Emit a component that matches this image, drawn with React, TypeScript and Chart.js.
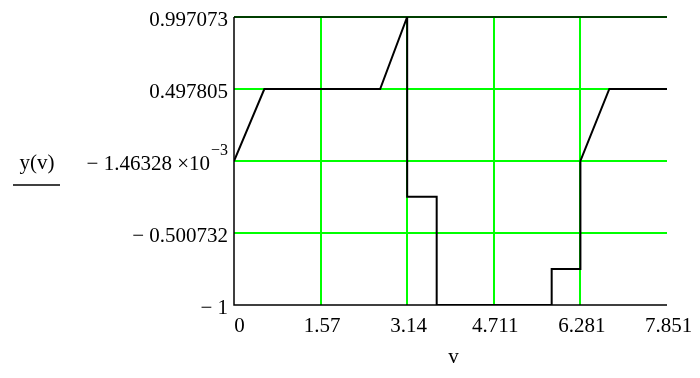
import React, { useEffect, useRef } from "react";
import { Chart, registerables } from "chart.js";

Chart.register(...registerables);

const vValues = [0, 0.55, 2.65, 3.14, 3.14, 3.675, 3.675, 5.76, 5.76, 6.281, 6.281, 6.805, 7.851];
const yValues = [-0.00146328, 0.497805, 0.497805, 0.997073, -0.25, -0.25, -1, -1, -0.75, -0.75, -0.00146328, 0.497805, 0.497805];
const xTicks = [0, 1.57, 3.14, 4.711, 6.281, 7.851];
const xTickLabels = ["0", "1.57", "3.14", "4.711", "6.281", "7.851"];
const yTicks = [-1, -0.500732, -0.00146328, 0.497805, 0.997073];
const yTickLabels = ["\u2212 1", "\u2212 0.500732", "\u2212 1.46328 \u00d710", "0.497805", "0.997073"];
const yLabel = "y(v)";
const xLabel = "v";

const FONT = "21px 'Liberation Serif', 'Times New Roman', serif";
const SUP_FONT = "16px 'Liberation Serif', 'Times New Roman', serif";
const GREEN = "#00ff00";
const NONE = "rgba(0,0,0,0)";

const labelsPlugin = {
  id: "mathcadLabels",
  beforeDatasetsDraw(chart: any) {
    const { ctx, chartArea } = chart;
    ctx.save();
    ctx.strokeStyle = "#000";
    ctx.lineWidth = 1.5;
    ctx.beginPath();
    ctx.moveTo(chartArea.left, chartArea.top);
    ctx.lineTo(chartArea.right, chartArea.top);
    ctx.moveTo(chartArea.left, chartArea.top);
    ctx.lineTo(chartArea.left, chartArea.bottom);
    ctx.lineTo(chartArea.right, chartArea.bottom);
    ctx.stroke();
    ctx.restore();
  },
  afterDraw(chart: any) {
    const { ctx } = chart;
    const xs = chart.scales.x;
    const ys = chart.scales.y;
    ctx.save();
    ctx.fillStyle = "#000";
    ctx.font = FONT;
    ctx.textBaseline = "middle";
    yTicks.forEach((t, i) => {
      const py = ys.getPixelForValue(t) + 3;
      ctx.textAlign = "right";
      if (i === 2) {
        ctx.font = SUP_FONT;
        ctx.fillText("\u22123", 228, py - 13);
        const w = ctx.measureText("\u22123").width;
        ctx.font = FONT;
        ctx.fillText(yTickLabels[i], 228 - w - 1, py);
      } else {
        ctx.fillText(yTickLabels[i], 228, py);
      }
    });
    xTicks.forEach((t, i) => {
      const px = xs.getPixelForValue(t) + (i === 0 ? 5.5 : 1.5);
      ctx.textAlign = "center";
      ctx.fillText(xTickLabels[i], px, 326);
    });
    ctx.textAlign = "center";
    ctx.fillText(xLabel, (xs.left + xs.right) / 2 + 3, 357);
    ctx.fillText(yLabel, 37, 163);
    ctx.lineWidth = 1.5;
    ctx.beginPath();
    ctx.moveTo(13, 185);
    ctx.lineTo(60, 185);
    ctx.stroke();
    ctx.restore();
  },
};

export default function App() {
  const ref = useRef<HTMLCanvasElement>(null);
  useEffect(() => {
    document.body.style.margin = "0";
    const canvas = ref.current!;
    const chart = new Chart(canvas, {
      type: "line",
      data: {
        datasets: [
          {
            data: vValues.map((v, i) => ({ x: v, y: yValues[i] })),
            borderColor: "#000",
            borderWidth: 2,
            pointRadius: 0,
            tension: 0,
            fill: false,
          },
        ],
      },
      options: {
        animation: false,
        responsive: false,
        maintainAspectRatio: false,
        layout: { padding: { left: 234, top: 17, right: 33, bottom: 73 } },
        plugins: { legend: { display: false }, tooltip: { enabled: false }, title: { display: false } },
        scales: {
          x: {
            type: "linear",
            min: 0,
            max: 7.851,
            afterBuildTicks: (s: any) => {
              s.ticks = xTicks.map((v) => ({ value: v }));
            },
            ticks: { display: false, autoSkip: false },
            border: { display: false },
            grid: {
              drawTicks: false,
              lineWidth: 2,
              color: xTicks.map((_, i) => (i === 0 || i === xTicks.length - 1 ? NONE : GREEN)),
            },
          },
          y: {
            type: "linear",
            min: -1,
            max: 0.997073,
            afterBuildTicks: (s: any) => {
              s.ticks = yTicks.map((v) => ({ value: v }));
            },
            ticks: { display: false, autoSkip: false },
            border: { display: false },
            grid: {
              drawTicks: false,
              lineWidth: 2,
              color: yTicks.map((_, i) => (i === 0 ? NONE : GREEN)),
            },
          },
        },
      },
      plugins: [labelsPlugin],
    });
    return () => chart.destroy();
  }, []);
  return (
    <div style={{ position: "absolute", left: 0, top: 0, width: 700, height: 378, background: "#fff" }}>
      <canvas ref={ref} width={700} height={378} style={{ width: 700, height: 378 }} />
    </div>
  );
}
